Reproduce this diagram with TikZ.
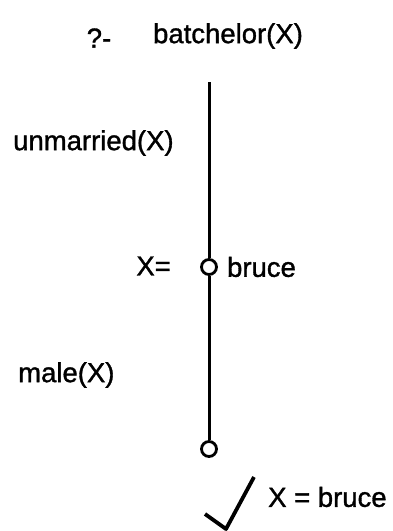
\documentclass[tikz,border=0pt]{standalone}
\usepackage{fontspec}
\setmainfont{Liberation Sans}[FakeBold=1.2]
\usetikzlibrary{positioning}

\tikzset{
  lbl/.style={font=\fontsize{27.5}{32}\selectfont, inner sep=0pt},
  goal/.style={circle, draw, line width=2.8pt, minimum size=15pt, inner sep=0pt},
  branch/.style={line width=3pt},
}

\begin{document}
\begin{tikzpicture}[x=1pt, y=-1pt]
  \useasboundingbox (0,0) rectangle (392,531);

  % Query
  \node[lbl] (prompt) at (99,38) {?-};
  \node[lbl] (query) at (228,36) {batchelor(X)};

  % Derivation branch
  \coordinate (root) at (209,82);
  \node[goal] (g1) at (209,267) {};
  \node[goal] (g2) at (209,449) {};

  \draw[branch] (root) -- (g1.north);
  \draw[branch] (g1.south) -- (g2.north);

  % Subgoals and bindings
  \node[lbl, anchor=west] (unmarried) at (13,143) {unmarried(X)};
  \node[lbl, anchor=east] (bind) at (171,266) {X=};
  \node[lbl, anchor=west, right=9pt of g1] (val) {bruce};
  \node[lbl, anchor=west] (male) at (18,375) {male(X)};

  % Success
  \draw[line width=3.8pt, line join=round] (205,514) -- (226,529) -- (254,477);
  \node[lbl, anchor=west] (answer) at (268,497) {X = bruce};
\end{tikzpicture}
\end{document}
